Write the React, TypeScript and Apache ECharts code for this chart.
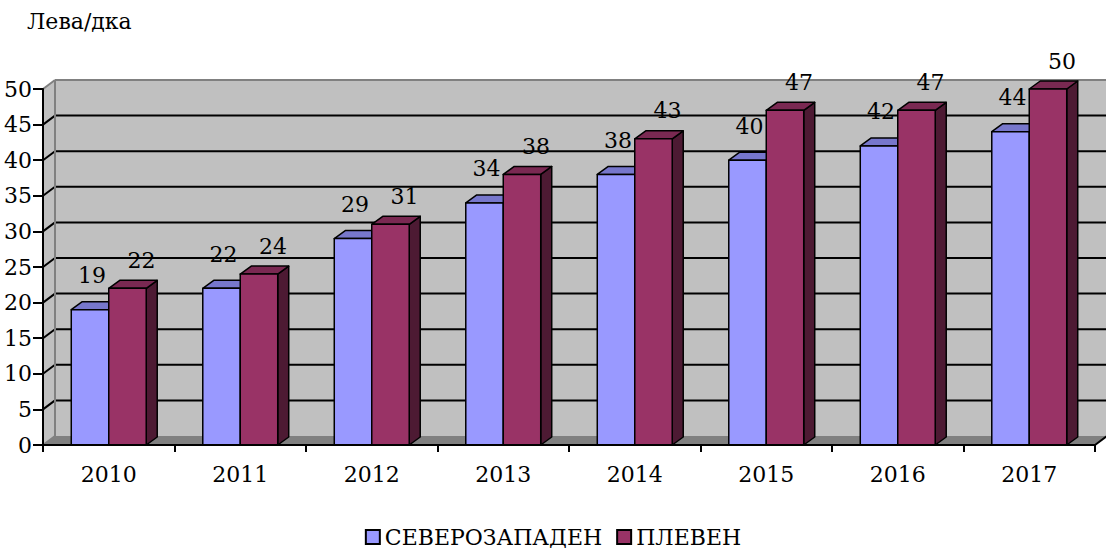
import React, { useEffect, useRef } from "react";
import * as echarts from "echarts";

const years = ["2010", "2011", "2012", "2013", "2014", "2015", "2016", "2017"];
const severozapaden = [19, 22, 29, 34, 38, 40, 42, 44];
const pleven = [22, 24, 31, 38, 43, 47, 47, 50];
const yTicks = [0, 5, 10, 15, 20, 25, 30, 35, 40, 45, 50];
const seriesNames = ["СЕВЕРОЗАПАДЕН", "ПЛЕВЕН"];
const unitLabel = "Лева/дка";

const FONT = "DejaVu Serif";
const FS = 22;
const WDX = 12;
const WDY = -9;
const BDX = 11;
const BDY = -8;

function barRenderer(slot: number, front: string, top: string, side: string) {
  return (params: any, api: any) => {
    const idx = api.value(0);
    const val = api.value(1);
    const c = api.coord([idx, val]);
    const b = api.coord([idx, 0]);
    const band = api.size([1, 0])[0];
    const w = band * 0.285;
    const x0 = slot === 0 ? c[0] - w : c[0];
    const x1 = x0 + w;
    const y = c[1];
    const base = b[1];
    const stroke = { stroke: "#000", lineWidth: 1.5, lineJoin: "round" };
    return {
      type: "group",
      children: [
        {
          type: "polygon",
          shape: { points: [[x1, y], [x1 + BDX, y + BDY], [x1 + BDX, base + BDY], [x1, base]] },
          style: { fill: side, ...stroke },
        },
        {
          type: "polygon",
          shape: { points: [[x0, y], [x1, y], [x1 + BDX, y + BDY], [x0 + BDX, y + BDY]] },
          style: { fill: top, ...stroke },
        },
        {
          type: "rect",
          shape: { x: x0, y: y, width: w, height: base - y },
          style: { fill: front, ...stroke },
        },
      ],
    };
  };
}

function labelRenderer(slot: number, offX: number, offY: number) {
  return (params: any, api: any) => {
    const idx = api.value(0);
    const val = api.value(1);
    const c = api.coord([idx, val]);
    const band = api.size([1, 0])[0];
    const w = band * 0.285;
    const x0 = slot === 0 ? c[0] - w : c[0];
    return {
      type: "text",
      style: {
        text: String(val),
        x: x0 + w / 2 + offX,
        y: c[1] - offY,
        textAlign: "center",
        textVerticalAlign: "middle",
        fontSize: FS,
        fontFamily: FONT,
        fill: "#000",
      },
    };
  };
}

function wallsRenderer(params: any, api: any) {
  const cs = params.coordSys;
  const x = cs.x;
  const y = cs.y;
  const w = cs.width;
  const h = cs.height;
  const children: any[] = [
    {
      type: "rect",
      shape: { x: x + WDX, y: y + WDY, width: w, height: h },
      style: { fill: "#C0C0C0" },
    },
    {
      type: "polygon",
      shape: { points: [[x, y + h], [x, y], [x + WDX, y + WDY], [x + WDX, y + h + WDY]] },
      style: { fill: "#C0C0C0" },
    },
    {
      type: "polygon",
      shape: { points: [[x, y + h], [x + w, y + h], [x + w + WDX, y + h + WDY], [x + WDX, y + h + WDY]] },
      style: { fill: "#808080" },
    },
  ];
  yTicks.forEach((v) => {
    const py = api.coord([0, v])[1];
    const edge = v === yTicks[0] || v === yTicks[yTicks.length - 1];
    if (!edge) {
      children.push({
        type: "line",
        shape: { x1: x + WDX, y1: py + WDY, x2: x + w + WDX, y2: py + WDY },
        style: { stroke: "#000", lineWidth: 2 },
      });
    }
    children.push({
      type: "line",
      shape: { x1: x, y1: py, x2: x + WDX, y2: py + WDY },
      style: { stroke: edge ? "#808080" : "#000", lineWidth: 2 },
    });
  });
  children.push({
    type: "line",
    shape: { x1: x + WDX, y1: y + WDY, x2: x + w + WDX, y2: y + WDY },
    style: { stroke: "#808080", lineWidth: 2 },
  });
  children.push({
    type: "line",
    shape: { x1: x + WDX, y1: y + WDY, x2: x + WDX, y2: y + h + WDY },
    style: { stroke: "#808080", lineWidth: 2 },
  });
  children.push({
    type: "line",
    shape: { x1: x + w, y1: y + h, x2: x + w + WDX, y2: y + h + WDY },
    style: { stroke: "#000", lineWidth: 2 },
  });
  return { type: "group", children };
}

export default function App() {
  const ref = useRef<HTMLDivElement>(null);
  useEffect(() => {
    if (!ref.current) return;
    const chart = echarts.init(ref.current, undefined, { renderer: "svg" });
    const blueData = severozapaden.map((v, i) => [i, v]);
    const redData = pleven.map((v, i) => [i, v]);
    chart.setOption({
      animation: false,
      backgroundColor: "#fff",
      textStyle: { fontFamily: FONT },
      graphic: [
        {
          type: "text",
          left: 27,
          top: 10,
          style: { text: unitLabel, fontSize: FS, fontFamily: FONT, fill: "#000" },
        },
      ],
      legend: {
        data: seriesNames,
        left: "center",
        top: 521,
        icon: "rect",
        itemWidth: 14,
        itemHeight: 14,
        itemGap: 14,
        itemStyle: { borderColor: "#000", borderWidth: 2 },
        textStyle: { fontSize: FS, fontFamily: FONT, color: "#000" },
      },
      grid: { left: 43, top: 89, width: 1052, height: 356 },
      xAxis: {
        type: "category",
        data: years,
        z: 10,
        axisLine: { lineStyle: { color: "#000", width: 2 } },
        axisTick: { show: true, length: 7, lineStyle: { color: "#000", width: 2 } },
        axisLabel: { fontSize: FS, fontFamily: FONT, color: "#000", margin: 18 },
        splitLine: { show: false },
      },
      yAxis: {
        type: "value",
        min: 0,
        max: 50,
        interval: 5,
        z: 10,
        axisLine: { show: true, lineStyle: { color: "#000", width: 2 } },
        axisTick: { show: true, length: 10, lineStyle: { color: "#000", width: 2 } },
        axisLabel: { fontSize: FS, fontFamily: FONT, color: "#000", margin: 11 },
        splitLine: { show: false },
      },
      series: [
        {
          type: "custom",
          name: "walls",
          z: 1,
          silent: true,
          data: [[0, 0]],
          renderItem: wallsRenderer,
        },
        {
          type: "custom",
          name: seriesNames[0],
          z: 2,
          itemStyle: { color: "#9999FF" },
          encode: { x: 0, y: 1 },
          data: blueData,
          renderItem: barRenderer(0, "#9999FF", "#7777CC", "#5C5C99"),
        },
        {
          type: "custom",
          name: seriesNames[1],
          z: 3,
          itemStyle: { color: "#993366" },
          encode: { x: 0, y: 1 },
          data: redData,
          renderItem: barRenderer(1, "#993366", "#7A2952", "#4D1A33"),
        },
        {
          type: "custom",
          name: "lbl0",
          z: 6,
          silent: true,
          encode: { x: 0, y: 1 },
          data: blueData,
          renderItem: labelRenderer(0, 2, 34),
        },
        {
          type: "custom",
          name: "lbl1",
          z: 6,
          silent: true,
          encode: { x: 0, y: 1 },
          data: redData,
          renderItem: labelRenderer(1, 14, 28),
        },
      ],
    });
    return () => chart.dispose();
  }, []);
  return (
    <div
      ref={ref}
      style={{ position: "fixed", left: 0, top: 0, width: 1106, height: 548 }}
    />
  );
}
